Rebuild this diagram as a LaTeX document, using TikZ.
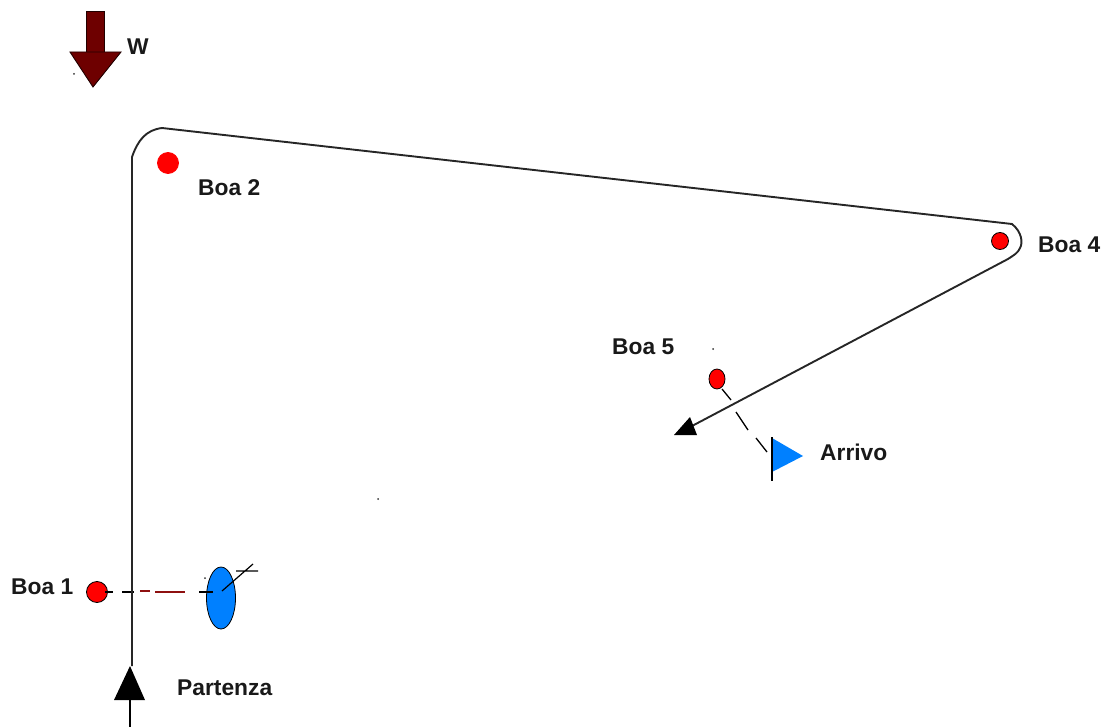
\documentclass[tikz,border=0pt]{standalone}
\usepackage{fontspec}
\setmainfont{Liberation Sans}
\usetikzlibrary{shapes.geometric}
\definecolor{windred}{HTML}{6E0000}
\definecolor{buoyred}{HTML}{FF0000}
\definecolor{sailblue}{HTML}{0080FF}
\definecolor{dashred}{HTML}{8E1010}
\tikzset{
  x=1pt,y=-1pt,
  lab/.style={font=\fontsize{22.8}{25}\selectfont\bfseries,inner sep=0pt,text=black!90},
  buoy/.style={circle,draw=black,line width=0.8pt,fill=buoyred,inner sep=0pt,minimum size=#1},
  course/.style={draw=black!85,line width=1.9pt,line join=round},
  dashseg/.style={draw=black,line width=1.3pt},
  speck/.style={fill=black!80,circle,inner sep=0pt,minimum size=2pt},
}
\begin{document}
\begin{tikzpicture}
\useasboundingbox (0,0) rectangle (1111,727);
% wind arrow
\fill[windred,draw=black!70!windred,line width=0.9pt] (86,11) rectangle (104,52);
\fill[windred,draw=black!70!windred,line width=0.9pt] (70,52) -- (121,52) -- (93,87) -- cycle;
\node[lab,anchor=west] (w) at (127,47) {W};
\node[speck] (s1) at (74,74) {};
\node[speck] (s2) at (378,499) {};
\node[speck] (s3) at (713,349) {};
\node[speck] (s4) at (205,578) {};
% buoys
\node[buoy=21pt] (b1) at (97,592) {};
\node[buoy=21pt,draw=buoyred] (b2) at (168,163) {};
\node[buoy=17pt] (b4) at (1000,241) {};
\node[ellipse,draw=black,line width=0.8pt,fill=buoyred,inner sep=0pt,minimum width=16pt,minimum height=20pt] (b5) at (717,379) {};
% labels
\node[lab,anchor=west] (l1) at (11,587) {Boa 1};
\node[lab,anchor=west] (l2) at (198,188) {Boa 2};
\node[lab,anchor=west] (l4) at (1038,245) {Boa 4};
\node[lab,anchor=west] (l5) at (612,347) {Boa 5};
\node[lab,anchor=west] (pa) at (177,688) {Partenza};
\node[lab,anchor=west] (ar) at (820,452) {Arrivo};
% boat
\node[ellipse,draw=black,line width=0.8pt,fill=sailblue,inner sep=0pt,minimum width=29pt,minimum height=62pt] (boat) at (221,598) {};
\coordinate (t1) at (222,591);
\coordinate (t2) at (253,564);
\coordinate (t3) at (236,571);
\coordinate (t4) at (258,571);
\draw[line width=1.2pt] (t1) -- (t2) (t3) -- (t4);
% start line, boa 1 to boat
\coordinate (d0) at (105,592);
\coordinate (d1) at (113,592);
\coordinate (d2) at (122,592);
\coordinate (d3) at (134,592);
\coordinate (d4) at (140,591);
\coordinate (d5) at (150,591);
\coordinate (d6) at (155,592);
\coordinate (d7) at (185,592);
\coordinate (d8) at (199,592);
\coordinate (d9) at (213,592);
\draw[dashseg] (d0) -- (d1) (d2) -- (d3) (d8) -- (d9);
\draw[dashseg,dashred] (d4) -- (d5) (d6) -- (d7);
% course
\coordinate (c0) at (132,666);
\coordinate (c1) at (132,157);
\coordinate (c2) at (162,128);
\coordinate (c3) at (1012,224);
\coordinate (c4) at (1020,248);
\coordinate (c5) at (692,426);
\draw[course] (c0) -- (c1) .. controls (138,140) and (146,130) .. (c2) -- (c3)
  .. controls (1022,232) and (1023,243) .. (c4) .. controls (1018,253) and (1014,255) .. (1008,259) -- (c5);
% start arrow
\coordinate (sa) at (130,666);
\coordinate (sb) at (114,700);
\coordinate (sc) at (145,700);
\coordinate (se) at (130,727);
\fill[black] (sa) -- (sb) -- (sc) -- cycle;
\draw[line width=1.5pt] (130,700) -- (se);
% finish arrow
\fill[black] (674,435) -- (697,435) -- (690,417) -- cycle;
% finish line
\coordinate (f0) at (722,389);
\coordinate (f1) at (731,400);
\coordinate (f2) at (736,412);
\coordinate (f3) at (748,430);
\coordinate (f4) at (756,438);
\coordinate (f5) at (767,452);
\draw[dashseg] (f0) -- (f1) (f2) -- (f3) (f4) -- (f5);
% flag
\coordinate (p0) at (772,437);
\coordinate (p1) at (772,481);
\fill[sailblue] (772,438) -- (803,456) -- (772,472) -- cycle;
\draw[line width=1.4pt] (p0) -- (p1);
\end{tikzpicture}
\end{document}
